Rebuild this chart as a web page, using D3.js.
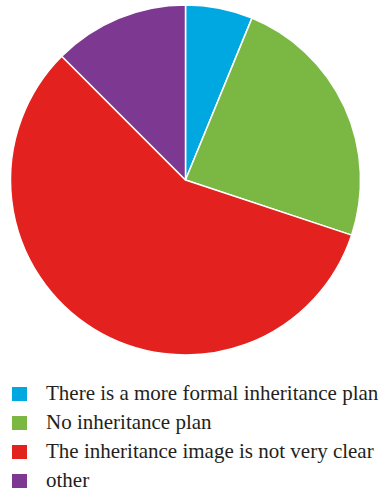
<!DOCTYPE html>
<html>
<head>
<meta charset="utf-8">
<script src="https://cdn.jsdelivr.net/npm/d3@7"></script>
<style>
  body { margin: 0; background: #fff; }
  svg { display: block; }
  .legend text { font-family: 'Liberation Serif', 'DejaVu Serif', serif; font-size: 21px; fill: #231f20; }
</style>
</head>
<body>
<div id="chart"></div>
<script>
// slice data, clockwise from 12 o'clock
const labels = [
  'There is a more formal inheritance plan',
  'No inheritance plan',
  'The inheritance image is not very clear',
  'other'
];
const shares = [6.2, 23.9, 57.4, 12.5];
const colors = ['#00a8e1', '#7ab843', '#e3211e', '#7d3991'];

const width = 382, height = 493;
const cx = 185.5, cy = 180, radius = 175;

let svg = d3.select('#chart').append('svg')
  .attr('width', width)
  .attr('height', height);

let data = labels.map((l, i) => ({ label: l, value: shares[i], color: colors[i] }));

let pie = d3.pie().sort(null).value(d => d.value);
let arc = d3.arc().innerRadius(0).outerRadius(radius);

let g = svg.append('g').attr('transform', `translate(${cx},${cy})`);
g.selectAll('path')
  .data(pie(data))
  .enter().append('path')
  .attr('d', arc)
  .attr('fill', d => d.data.color)
  .attr('stroke', '#fff')
  .attr('stroke-width', 1.5)
  .attr('stroke-linejoin', 'round');

// legend
let legend = svg.append('g').attr('class', 'legend').attr('transform', 'translate(12,387)');
let rows = legend.selectAll('g')
  .data(data)
  .enter().append('g')
  .attr('transform', (d, i) => `translate(0,${i * 29})`);

rows.append('rect')
  .attr('width', 15)
  .attr('height', 14)
  .attr('fill', d => d.color);

rows.append('text')
  .attr('x', 34)
  .attr('y', 13)
  .text(d => d.label);
</script>
</body>
</html>
